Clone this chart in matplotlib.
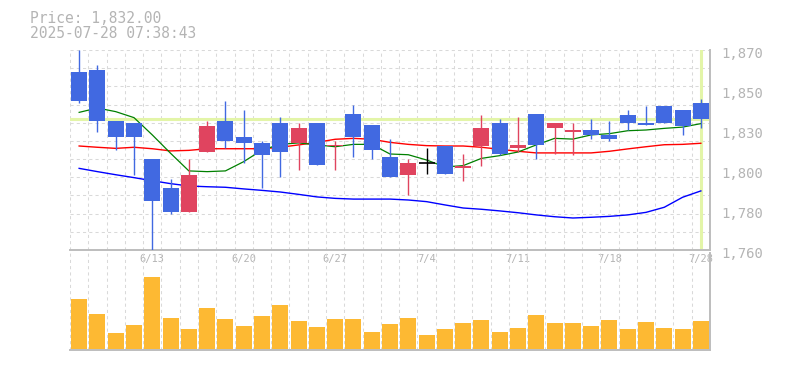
import matplotlib
matplotlib.use("Agg")
import matplotlib.pyplot as plt
import matplotlib.transforms as mtransforms
import numpy as np

# ---------------- data ----------------
dates = ["6/9", "6/10", "6/11", "6/12", "6/13", "6/16", "6/17", "6/18", "6/19", "6/20",
         "6/23", "6/24", "6/25", "6/26", "6/27", "6/30", "7/1", "7/2", "7/3", "7/4",
         "7/7", "7/8", "7/9", "7/10", "7/11", "7/14", "7/15", "7/16", "7/17", "7/18",
         "7/22", "7/23", "7/24", "7/25", "7/28"]
opens = [1858, 1859, 1831, 1830, 1810, 1794, 1781, 1814, 1831, 1822, 1819, 1830, 1819, 1830, 1817,
         1835, 1829, 1811, 1801, 1808, 1817, 1805, 1817, 1830, 1816, 1835, 1827, 1825, 1826, 1823,
         1834, 1830, 1839, 1837, 1841]
highs = [1870, 1862, 1831, 1830, 1810, 1799, 1810, 1831, 1842, 1837, 1820, 1833, 1830, 1830, 1820,
         1840, 1829, 1821, 1810, 1816, 1817, 1813, 1834, 1832, 1833, 1835, 1830, 1830, 1832, 1831,
         1837, 1839, 1839, 1837, 1843]
lows = [1841, 1825, 1815, 1801, 1760, 1780, 1781, 1814, 1816, 1808, 1794, 1800, 1804, 1807, 1804,
        1811, 1810, 1800, 1790, 1802, 1802, 1798, 1806, 1812, 1814, 1810, 1813, 1812, 1821, 1820,
        1826, 1829, 1830, 1823, 1827]
closes = [1842, 1831, 1822, 1822, 1787, 1781, 1801, 1828, 1820, 1819, 1812, 1814, 1827, 1807, 1818,
          1822, 1815, 1800, 1808, 1808, 1802, 1806, 1827, 1813, 1818, 1818, 1830, 1826, 1823, 1821,
          1830, 1829, 1830, 1828, 1832]
volume_k = [50, 35, 16, 24, 72, 31, 20, 41, 30, 23, 33, 44, 28, 22, 30, 30, 17, 25, 31, 14,
            20, 26, 29, 17, 21, 34, 26, 26, 23, 29, 20, 27, 21, 20, 28]
ma5 = [1835.7, 1838.1, 1836.1, 1832.8, 1823.3, 1813.2, 1803.5, 1803.1, 1803.5, 1808.6,
       1815.0, 1818.1, 1818.9, 1817.8, 1816.8, 1818.1, 1818.1, 1812.8, 1812.4, 1809.5,
       1805.7, 1806.4, 1810.4, 1811.9, 1813.9, 1817.8, 1821.4, 1821.0, 1823.3, 1824.0,
       1825.6, 1826.0, 1826.9, 1827.6, 1829.5]
ma25 = [1817.2, 1816.5, 1815.9, 1816.5, 1815.7, 1814.5, 1814.8, 1815.7, 1815.7, 1815.7,
        1815.7, 1816.5, 1817.8, 1819.2, 1820.9, 1821.4, 1820.9, 1819.2, 1818.1, 1817.4,
        1817.2, 1817.2, 1816.5, 1815.4, 1814.3, 1813.4, 1813.4, 1813.4, 1813.4, 1814.3,
        1815.6, 1816.8, 1817.9, 1818.1, 1818.7]
ma75 = [1804.9, 1803.1, 1801.4, 1799.8, 1798.1, 1796.5, 1795.2, 1794.8, 1794.5, 1793.6,
        1792.8, 1791.9, 1790.6, 1789.2, 1788.4, 1788.0, 1788.0, 1788.0, 1787.5, 1786.6,
        1784.8, 1783.1, 1782.4, 1781.5, 1780.5, 1779.3, 1778.3, 1777.6, 1778.0, 1778.5,
        1779.3, 1780.7, 1783.5, 1789.0, 1792.5]
tick_dates = ["6/13", "6/20", "6/27", "7/4", "7/11", "7/18", "7/28"]
price_ticks = [1760, 1782, 1804, 1826, 1848, 1870]
price_tick_labels = ["1,760", "1,780", "1,800", "1,830", "1,850", "1,870"]
last_price = 1832
header_price = "Price: 1,832.00"
header_time = "2025-07-28 07:38:43"

# ---------------- style ----------------
UP = "#E0445F"
DOWN = "#4169E1"
FLAT = "#000000"
VOL = "#FDB933"
GRID = "#d9d9d9"
SPINE = "#bdbdbd"
TEXT = "#b4b4b4"
HILITE = "#E3F5A8"
MONO = "DejaVu Sans Mono"

W, H = 785, 370
fig = plt.figure(figsize=(W / 100, H / 100), dpi=100)


def frac(x0, y0, x1, y1):
    return [x0 / W, 1 - y1 / H, (x1 - x0) / W, (y1 - y0) / H]


ax = fig.add_axes(frac(70, 50, 710, 250))
axv = fig.add_axes(frac(70, 253, 710, 350))
axv.patch.set_visible(False)

n = len(dates)
x = np.arange(n)
xlim = (-0.5, n - 0.5)
bw = 0.87

# grid
for ygl in np.arange(1760, 1871, 10):
    ax.axhline(ygl, color=GRID, lw=0.75, ls=(0, (3, 3)), zorder=0)
for k in range(n + 1):
    ax.axvline(k - 0.5, color=GRID, lw=0.75, ls=(0, (3, 3)), zorder=0)
    axv.axvline(k - 0.5, color=GRID, lw=0.75, ls=(0, (3, 3)), zorder=0)

# current price highlight
ax.axhline(last_price, color=HILITE, lw=2.2, zorder=1)
ax.axvline(x[-1], color=HILITE, lw=2.2, zorder=1, ymin=0.005, ymax=0.995)

# moving averages
ax.plot(x, ma75, color="#0000FF", lw=1.0, zorder=2)
ax.plot(x, ma25, color="#FF0000", lw=1.0, zorder=2)
ax.plot(x, ma5, color="#008000", lw=0.9, zorder=2)

# candles
for i in range(n):
    o, h, l, c = opens[i], highs[i], lows[i], closes[i]
    col = UP if c > o else (DOWN if c < o else FLAT)
    ax.vlines(i, l, h, color=col, lw=1.0, zorder=3)
    if c == o:
        ax.hlines(c, i - bw / 2, i + bw / 2, color=col, lw=1.2, zorder=4)
    else:
        ax.bar(i, abs(c - o), bottom=min(o, c), width=bw, color=col, zorder=4, linewidth=0)

ax.set_xlim(*xlim)
ax.set_ylim(1760, 1870)
ax.set_yticks(price_ticks)
ax.set_yticklabels(price_tick_labels)
ax.yaxis.tick_right()
ax.tick_params(axis="y", length=0, pad=8, labelsize=10, labelcolor=TEXT)
for lab in ax.get_yticklabels():
    lab.set_fontfamily(MONO)
    lab.set_transform(lab.get_transform() + mtransforms.ScaledTranslation(0, -2.5 / 100, fig.dpi_scale_trans))

ax.set_xticks([dates.index(d) for d in tick_dates])
ax.set_xticklabels(tick_dates)
ax.tick_params(axis="x", length=0, pad=3, labelsize=7.5, labelcolor=TEXT)
for lab in ax.get_xticklabels():
    lab.set_fontfamily(MONO)

for s in ["top", "left"]:
    ax.spines[s].set_visible(False)
for s in ["bottom", "right"]:
    ax.spines[s].set_color(SPINE)
    ax.spines[s].set_linewidth(1.4)

# volume
axv.bar(x, volume_k, width=bw, color=VOL, zorder=2, linewidth=0)
axv.set_xlim(*xlim)
axv.set_ylim(-1, 96)
axv.set_xticks([])
axv.set_yticks([])
for s in ["top", "left"]:
    axv.spines[s].set_visible(False)
for s in ["bottom", "right"]:
    axv.spines[s].set_color(SPINE)
    axv.spines[s].set_linewidth(1.4)

# header
fig.text(30 / W, 1 - 22.7 / H, header_price, fontsize=10.5, color=TEXT, family=MONO, va="baseline")
fig.text(30 / W, 1 - 37.5 / H, header_time, fontsize=10.5, color=TEXT, family=MONO, va="baseline")

fig.savefig("out.png", dpi=100)
